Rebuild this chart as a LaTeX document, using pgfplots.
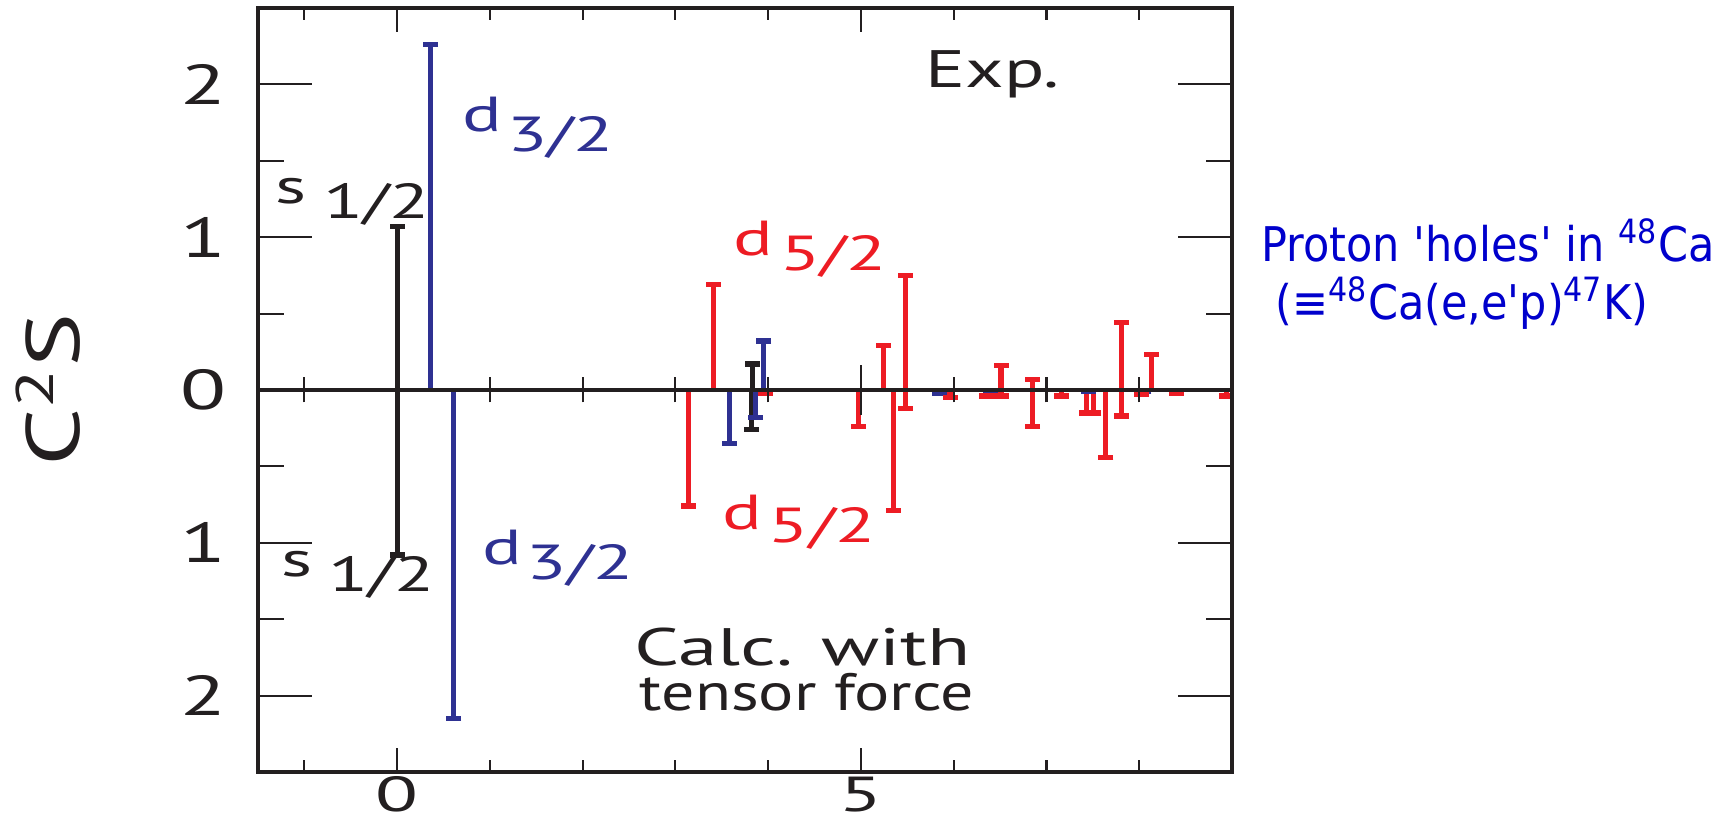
\documentclass[border=0pt]{standalone}
\usepackage{pgfplots}
\pgfplotsset{compat=1.18}
\usepackage{fontspec}
\setmainfont{PT Sans}
\newfontfamily\annfont{DejaVu Sans}
\usepackage{graphicx}

\definecolor{cred}{RGB}{237,28,36}
\definecolor{cblue}{RGB}{46,49,146}
\definecolor{cblack}{RGB}{35,31,32}
\definecolor{annblue}{RGB}{0,0,204}

% the original figure is stretched sideways
\newcommand{\wide}[1]{\scalebox{1.5}[1]{#1}}
\newcommand{\tickfont}{\fontsize{16}{16}\selectfont}
\newcommand{\labfont}{\fontsize{14}{14}\selectfont}
\newcommand{\bigfont}{\fontsize{15}{15}\selectfont}
\newcommand{\annsize}{\annfont\fontsize{13.6}{14}\selectfont}

\tikzset{txt/.style={anchor=base west, inner sep=0pt}}

\pgfplotsset{
  base/.style={
    scale only axis, width=9.74cm, height=7.64cm,
    xmin=-1.5, xmax=9, ymin=-2.5, ymax=2.5,
    at={(2.58cm,0.48cm)}, anchor=south west,
    axis line style={cblack, line width=0.9pt},
    tick style={cblack, line width=0.6pt},
    tick align=inside,
  },
  bar/.style={ycomb, line width=1.5pt, mark=-, mark size=0.75mm,
    mark options={line width=1.5pt}},
}

\begin{document}
\begin{tikzpicture}
\useasboundingbox (0,0) rectangle (17.33cm,8.2cm);

% box, y ticks and the strengths
\begin{axis}[base, clip=false,
  xtick=\empty,
  ytick={-2,-1,0,1,2},
  yticklabels={\wide{2},\wide{1},\wide{0},\wide{1},\wide{2}},
  minor ytick={-1.5,-0.5,0.5,1.5},
  major tick length=5.4mm, minor tick length=2.6mm,
  yticklabel style={font=\tickfont, text=cblack, inner sep=0pt, xshift=-3.1mm},
]
\addplot[bar, cblack] coordinates {(0,1.07) (3.83,0.17) (0,-1.08) (3.82,-0.26)};
\addplot[bar, cblue] coordinates {(0.36,2.26) (3.95,0.32) (0.61,-2.15) (3.58,-0.35)
  (3.86,-0.18) (5.85,-0.02) (6.40,-0.03) (7.45,-0.01) (8.05,-0.01)};
\addplot[bar, cred] coordinates {(3.41,0.69) (5.24,0.29) (5.48,0.75) (6.51,0.16)
  (6.85,0.07) (7.81,0.44) (8.13,0.23)
  (3.14,-0.76) (3.97,-0.02) (4.97,-0.24) (5.35,-0.79) (5.48,-0.12) (5.96,-0.05)
  (6.35,-0.04) (6.51,-0.04) (6.85,-0.24) (7.16,-0.04) (7.43,-0.15) (7.51,-0.15)
  (7.64,-0.44) (7.81,-0.17) (8.02,-0.03) (8.40,-0.02) (8.94,-0.04)};

% level labels
\node[txt, font=\labfont, text=cblack] at (axis cs:-1.32,1.22) {\wide{s}};
\node[txt, font=\labfont, text=cblack] at (axis cs:-0.80,1.12) {\wide{1/2}};
\node[txt, font=\labfont, text=cblue] at (axis cs:0.70,1.69) {\wide{d}};
\node[txt, font=\labfont, text=cblue] at (axis cs:1.18,1.56) {\wide{3/2}};
\node[txt, font=\labfont, text=cblack] at (axis cs:-1.25,-1.22) {\wide{s}};
\node[txt, font=\labfont, text=cblack] at (axis cs:-0.75,-1.32) {\wide{1/2}};
\node[txt, font=\labfont, text=cblue] at (axis cs:0.91,-1.14) {\wide{d}};
\node[txt, font=\labfont, text=cblue] at (axis cs:1.39,-1.24) {\wide{3/2}};
\node[txt, font=\labfont, text=cred] at (axis cs:3.62,0.88) {\wide{d}};
\node[txt, font=\labfont, text=cred] at (axis cs:4.12,0.78) {\wide{5/2}};
\node[txt, font=\labfont, text=cred] at (axis cs:3.50,-0.91) {\wide{d}};
\node[txt, font=\labfont, text=cred] at (axis cs:4.00,-1.00) {\wide{5/2}};

\node[txt, font=\bigfont, text=cblack] at (axis cs:5.69,1.98) {\scalebox{1.42}[1]{Exp.}};
\node[txt, font=\bigfont, text=cblack] at (axis cs:2.55,-1.80) {\scalebox{1.5}[1]{Calc. with}};
\node[txt, font=\bigfont, text=cblack] at (axis cs:2.61,-2.10) {\scalebox{1.25}[1]{tensor force}};

\node[rotate=90, font=\fontsize{21.5}{22}\selectfont, text=cblack] at (axis cs:-3.76,0)
  {\scalebox{1.35}[1]{C\textsuperscript{2}S}};

\node[txt, text=annblue, font=\annsize]
  at (axis cs:9.31,0.84) {\scalebox{0.9}[1]{Proton 'holes' in \textsuperscript{48}Ca}};
\node[txt, text=annblue, font=\annsize]
  at (axis cs:9.46,0.46) {\scalebox{0.9}[1]{(≡\textsuperscript{48}Ca(e,e'p)\textsuperscript{47}K)}};
\end{axis}

% top and bottom x ticks
\begin{axis}[base,
  ytick=\empty,
  xtick={0,5}, xticklabels={\scalebox{1.6}[1]{0},\scalebox{1.6}[1]{5}},
  minor xtick={-1,1,2,3,4,6,7,8},
  major tick length=2.4mm, minor tick length=1.2mm,
  xticklabel style={font=\fontsize{14}{14}\selectfont, text=cblack, inner sep=0pt, yshift=-0.4mm},
]
\end{axis}

% zero line with crossing ticks
\begin{axis}[base,
  axis x line*=middle, axis y line=none,
  ytick=\empty,
  xtick={0,5}, xticklabels={{},{}},
  minor xtick={-1,1,2,3,4,6,7,8},
  tick align=center,
  major tick length=5mm, minor tick length=2.5mm,
  axis line style={cblack, line width=1pt},
]
\end{axis}
\end{tikzpicture}
\end{document}
